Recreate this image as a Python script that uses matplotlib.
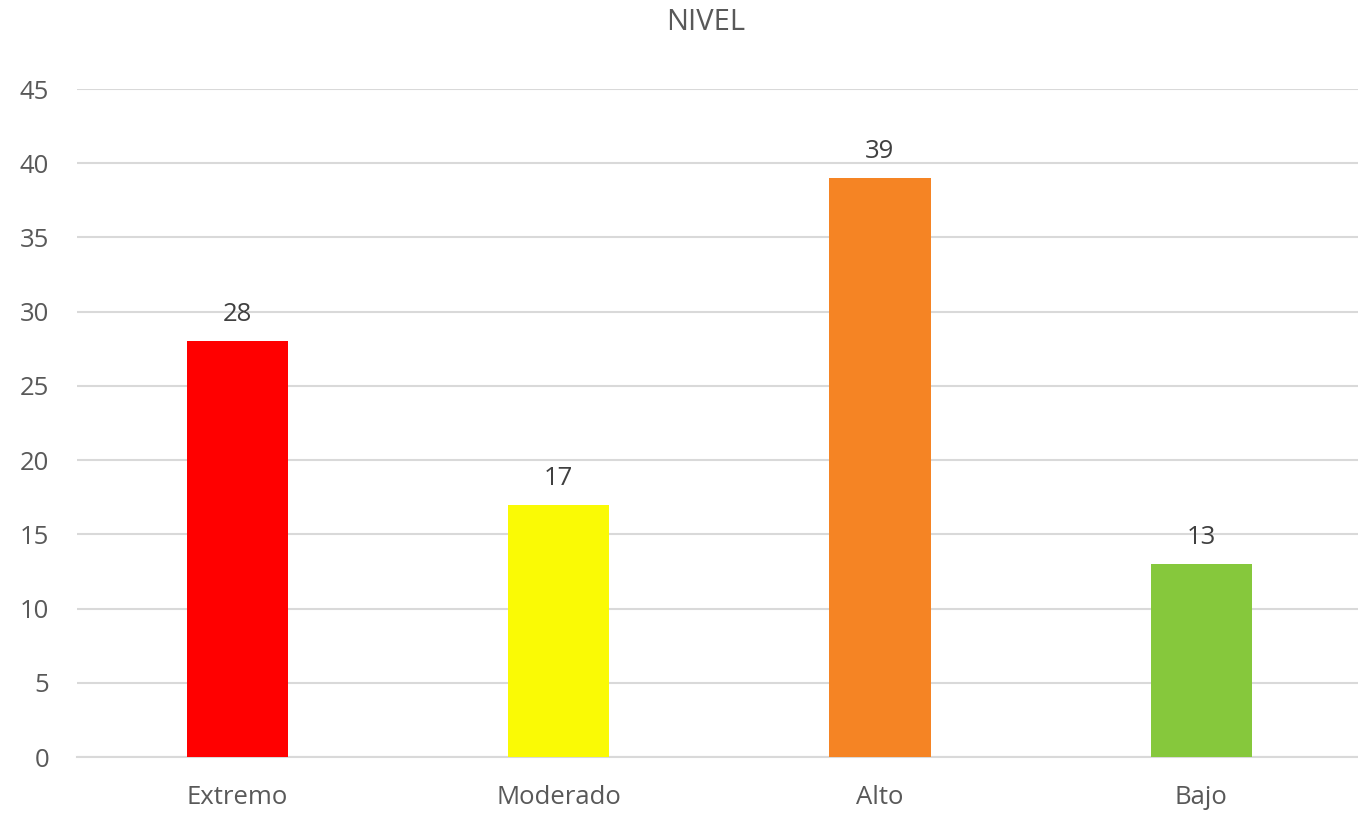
import matplotlib
matplotlib.use("Agg")
import matplotlib.pyplot as plt

categories = ["Extremo", "Moderado", "Alto", "Bajo"]
values = [28, 17, 39, 13]
bar_colors = ["#FF0000", "#FAFA05", "#F58424", "#86C83C"]
y_ticks = [0, 5, 10, 15, 20, 25, 30, 35, 40, 45]

plt.rcParams['font.family'] = ['Open Sans', 'DejaVu Sans']

fig = plt.figure(figsize=(13.58, 8.13), dpi=100)
ax = fig.add_axes([76.8 / 1358, 56 / 813, 1285 / 1358, 668 / 813])

x = range(len(categories))
bars = ax.bar(x, values, width=0.315, color=bar_colors, zorder=3)

for rect, v in zip(bars, values):
    ax.annotate(str(v), (rect.get_x() + rect.get_width() / 2, v),
                xytext=(0, 10), textcoords='offset points',
                ha='center', va='bottom', fontsize=18.5, color='#404040')

ax.set_xlim(-0.5, 3.5)
ax.set_ylim(0, 45)
ax.set_yticks(y_ticks)
ax.set_xticks(list(x))
ax.set_xticklabels(categories)
ax.yaxis.grid(True, color='#D9D9D9', linewidth=1.5, zorder=0)
ax.set_axisbelow(True)

for s in ['top', 'right', 'left']:
    ax.spines[s].set_visible(False)
ax.spines['bottom'].set_color('#D9D9D9')
ax.spines['bottom'].set_linewidth(1.5)

ax.tick_params(axis='y', length=0, pad=20, labelsize=18.5, labelcolor='#595959')
ax.tick_params(axis='x', length=0, pad=20, labelsize=18.5, labelcolor='#595959')

fig.text(706 / 1358, 1 - 22 / 813, "NIVEL", ha='center', va='center',
         fontsize=21, color='#595959')

fig.savefig("out.png", dpi=100)
